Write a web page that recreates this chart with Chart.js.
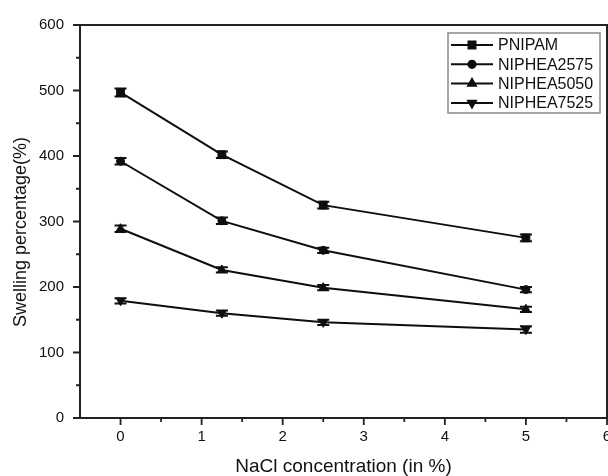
<!DOCTYPE html>
<html>
<head>
<meta charset="utf-8">
<script src="https://cdn.jsdelivr.net/npm/chart.js@4/dist/chart.umd.min.js"></script>
<style>
  html, body { margin: 0; padding: 0; background: #ffffff; overflow: hidden; }
  #wrap { width: 630px; height: 476px; }
</style>
</head>
<body>
<div id="wrap"><canvas id="c" width="630" height="476"></canvas></div>
<script>
// NaCl concentration (%) at which swelling was measured
const concentrations = [0, 1.25, 2.5, 5];

// Swelling percentage (%) for each hydrogel
const pnipam      = [497, 402, 325, 275];
const niphea2575  = [392, 301, 256, 196];
const niphea5050  = [289, 226, 199, 166];
const niphea7525  = [179, 160, 146, 135];

// Standard deviations (error bars)
const errPnipam     = [6, 5, 5, 5];
const errNiphea2575 = [5, 5, 4, 4];
const errNiphea5050 = [5, 4, 4, 4];
const errNiphea7525 = [4, 4, 4, 5];

const seriesNames = ['PNIPAM', 'NIPHEA2575', 'NIPHEA5050', 'NIPHEA7525'];

// Axis ticks
const xMajorTicks = [0, 1, 2, 3, 4, 5, 6];
const xMinorTicks = [0.5, 1.5, 2.5, 3.5, 4.5, 5.5];
const yMajorTicks = [0, 100, 200, 300, 400, 500, 600];
const yMinorTicks = [50, 150, 250, 350, 450, 550];

const INK = '#0e0e0e';
const TEXT = '#111111';
const FONT = '"Liberation Sans", Arial, sans-serif';

function points(values) {
  return concentrations.map((x, i) => ({ x: x, y: values[i] }));
}

const markerStyles = [
  { pointStyle: 'rect', radius: 5.5, rotation: 0 },
  { pointStyle: 'circle', radius: 4, rotation: 0 },
  { pointStyle: 'triangle', radius: 5, rotation: 0 },
  { pointStyle: 'triangle', radius: 5, rotation: 180 }
];

const seriesValues = [pnipam, niphea2575, niphea5050, niphea7525];
const seriesErrors = [errPnipam, errNiphea2575, errNiphea5050, errNiphea7525];

const datasets = seriesValues.map((vals, i) => ({
  label: seriesNames[i],
  data: points(vals),
  errors: seriesErrors[i],
  borderColor: INK,
  backgroundColor: INK,
  borderWidth: 2,
  tension: 0,
  pointStyle: markerStyles[i].pointStyle,
  pointRadius: markerStyles[i].radius,
  pointRotation: markerStyles[i].rotation,
  pointBorderWidth: 1,
  pointBorderColor: INK,
  pointBackgroundColor: INK
}));

// Error bars with caps
const errorBars = {
  id: 'errorBars',
  afterDatasetsDraw(chart) {
    const ctx = chart.ctx;
    const xs = chart.scales.x, ys = chart.scales.y;
    ctx.save();
    ctx.strokeStyle = INK;
    ctx.lineWidth = 2;
    chart.data.datasets.forEach(ds => {
      ds.data.forEach((p, i) => {
        const e = ds.errors[i];
        const px = xs.getPixelForValue(p.x);
        const top = ys.getPixelForValue(p.y + e);
        const bot = ys.getPixelForValue(p.y - e);
        const half = 6;
        ctx.beginPath();
        ctx.moveTo(px, top); ctx.lineTo(px, bot);
        ctx.moveTo(px - half, top); ctx.lineTo(px + half, top);
        ctx.moveTo(px - half, bot); ctx.lineTo(px + half, bot);
        ctx.stroke();
      });
    });
    ctx.restore();
  }
};

// Frame, tick marks and axis titles
const frame = {
  id: 'frame',
  afterDraw(chart) {
    const ctx = chart.ctx;
    const a = chart.chartArea;
    const xs = chart.scales.x, ys = chart.scales.y;
    ctx.save();
    ctx.strokeStyle = '#222222';
    ctx.lineWidth = 2;
    ctx.beginPath();
    ctx.rect(a.left, a.top, a.right - a.left, a.bottom - a.top);
    ctx.stroke();

    ctx.lineWidth = 1.8;
    ctx.beginPath();
    xMajorTicks.forEach(v => {
      const px = xs.getPixelForValue(v);
      ctx.moveTo(px, a.bottom); ctx.lineTo(px, a.bottom + 7);
    });
    xMinorTicks.forEach(v => {
      const px = xs.getPixelForValue(v);
      ctx.moveTo(px, a.bottom); ctx.lineTo(px, a.bottom + 4);
    });
    yMajorTicks.forEach(v => {
      const py = ys.getPixelForValue(v);
      ctx.moveTo(a.left, py); ctx.lineTo(a.left - 7, py);
    });
    yMinorTicks.forEach(v => {
      const py = ys.getPixelForValue(v);
      ctx.moveTo(a.left, py); ctx.lineTo(a.left - 4, py);
    });
    ctx.stroke();

    ctx.fillStyle = TEXT;
    ctx.textAlign = 'center';
    ctx.textBaseline = 'middle';
    ctx.font = '19px ' + FONT;
    ctx.fillText('NaCl concentration (in %)', (a.left + a.right) / 2, 467);

    ctx.save();
    ctx.translate(21, 232);
    ctx.rotate(-Math.PI / 2);
    ctx.font = '18px ' + FONT;
    ctx.fillText('Swelling percentage(%)', 0, 0);
    ctx.restore();
    ctx.restore();
  }
};

// Legend box in the upper right of the plot
const boxLegend = {
  id: 'boxLegend',
  afterDraw(chart) {
    const ctx = chart.ctx;
    const x0 = 448, y0 = 33, x1 = 600, y1 = 113;
    ctx.save();
    ctx.fillStyle = '#ffffff';
    ctx.fillRect(x0, y0, x1 - x0, y1 - y0);
    ctx.strokeStyle = '#8a8a8a';
    ctx.lineWidth = 1.5;
    ctx.strokeRect(x0, y0, x1 - x0, y1 - y0);
    const rows = [45, 64.3, 83.6, 103];
    ctx.font = '16px ' + FONT;
    ctx.textBaseline = 'middle';
    ctx.textAlign = 'left';
    chart.data.datasets.forEach((ds, i) => {
      const y = rows[i];
      ctx.strokeStyle = INK;
      ctx.lineWidth = 2;
      ctx.beginPath();
      ctx.moveTo(451, y); ctx.lineTo(493, y);
      ctx.stroke();
      ctx.fillStyle = INK;
      Chart.helpers.drawPoint(ctx, {
        pointStyle: ds.pointStyle,
        radius: ds.pointRadius * 0.9,
        rotation: ds.pointRotation,
        borderWidth: 1
      }, 472, y);
      ctx.fillStyle = TEXT;
      ctx.fillText(ds.label, 498, y + 1);
    });
    ctx.restore();
  }
};

new Chart(document.getElementById('c'), {
  type: 'line',
  data: { datasets: datasets },
  options: {
    responsive: false,
    animation: false,
    layout: { padding: { left: 0, top: 23, right: 23, bottom: 0 } },
    plugins: { legend: { display: false }, tooltip: { enabled: false } },
    scales: {
      x: {
        type: 'linear',
        min: -0.5,
        max: 6,
        afterBuildTicks(s) { s.ticks = xMajorTicks.map(v => ({ value: v })); },
        afterFit(s) { s.height = 58; },
        grid: { display: false, drawTicks: false },
        border: { display: false },
        ticks: {
          padding: 10,
          maxRotation: 0,
          autoSkip: false,
          color: TEXT,
          font: { family: FONT, size: 15 }
        }
      },
      y: {
        type: 'linear',
        min: 0,
        max: 600,
        afterBuildTicks(s) { s.ticks = yMajorTicks.map(v => ({ value: v })); },
        afterFit(s) { s.width = 80; },
        grid: { display: false, drawTicks: false },
        border: { display: false },
        ticks: {
          padding: 16,
          autoSkip: false,
          color: TEXT,
          font: { family: FONT, size: 15 }
        }
      }
    }
  },
  plugins: [errorBars, frame, boxLegend]
});
</script>
</body>
</html>
